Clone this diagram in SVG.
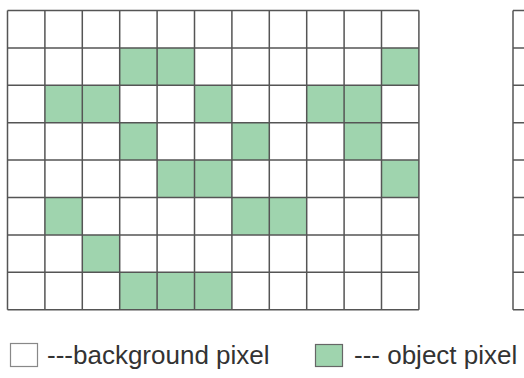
<svg xmlns="http://www.w3.org/2000/svg" width="524" height="378" viewBox="0 0 524 378">
<style>
.obj{fill:#9fd4ae}
.ln{stroke:#555;stroke-width:1.5;fill:none}
.lg{font-family:"Liberation Sans",Arial,sans-serif;font-size:26px;fill:#333}
</style>
<rect width="524" height="378" fill="#fff"/>
<g id="grid">
<g id="object-pixels">
<rect class="obj" x="119.7" y="47.9" width="74.8" height="37.4"/>
<rect class="obj" x="381.5" y="47.9" width="37.4" height="37.4"/>
<rect class="obj" x="44.9" y="85.3" width="74.8" height="37.4"/>
<rect class="obj" x="194.5" y="85.3" width="37.4" height="37.4"/>
<rect class="obj" x="306.7" y="85.3" width="74.8" height="37.4"/>
<rect class="obj" x="119.7" y="122.7" width="37.4" height="37.4"/>
<rect class="obj" x="231.9" y="122.7" width="37.4" height="37.4"/>
<rect class="obj" x="344.1" y="122.7" width="37.4" height="37.4"/>
<rect class="obj" x="157.1" y="160.1" width="74.8" height="37.4"/>
<rect class="obj" x="381.5" y="160.1" width="37.4" height="37.4"/>
<rect class="obj" x="44.9" y="197.5" width="37.4" height="37.4"/>
<rect class="obj" x="231.9" y="197.5" width="74.8" height="37.4"/>
<rect class="obj" x="82.3" y="234.9" width="37.4" height="37.4"/>
<rect class="obj" x="119.7" y="272.3" width="112.2" height="37.4"/>
</g>
<g id="grid-lines" class="ln">
<path d="M7.5 10.5V309.7M44.9 10.5V309.7M82.3 10.5V309.7M119.7 10.5V309.7M157.1 10.5V309.7M194.5 10.5V309.7M231.9 10.5V309.7M269.3 10.5V309.7M306.7 10.5V309.7M344.1 10.5V309.7M381.5 10.5V309.7M418.9 10.5V309.7"/>
<path d="M7.5 10.5H418.9M7.5 47.9H418.9M7.5 85.3H418.9M7.5 122.7H418.9M7.5 160.1H418.9M7.5 197.5H418.9M7.5 234.9H418.9M7.5 272.3H418.9M7.5 309.7H418.9"/>
</g>
</g>
<g id="grid-right" class="ln">
<path d="M513 10.5V309.7M513 10.5H524M513 47.9H524M513 85.3H524M513 122.7H524M513 160.1H524M513 197.5H524M513 234.9H524M513 272.3H524M513 309.7H524"/>
</g>
<g id="legend-background">
<rect x="10.5" y="343.5" width="27" height="23" fill="#fff" stroke="#888" stroke-width="1.2"/>
<text class="lg" x="47" y="363.5">---background pixel</text>
</g>
<g id="legend-object">
<rect x="315.5" y="344.5" width="27" height="22" class="obj" stroke="#666" stroke-width="1.2"/>
<text class="lg" x="354" y="363.5">--- object pixel</text>
</g>
</svg>
